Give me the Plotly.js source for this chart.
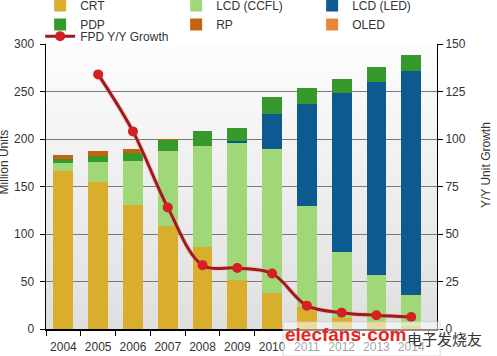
<!DOCTYPE html>
<html>
<head>
<meta charset="utf-8">
<script src="https://cdn.plot.ly/plotly-3.0.1.min.js"></script>
<style>html,body{margin:0;padding:0;background:#fff;}#chart{width:497px;height:356px;}</style>
</head>
<body>
<div id="chart"></div>
<script>
// ---- data ----
var years = ['2004','2005','2006','2007','2008','2009','2010','2011','2012','2013','2014'];
var crt     = [166, 155, 131, 108, 86, 52, 38, 23, 12, 7, 3];
var lcdCcfl = [9, 21, 46, 79, 107, 144, 151, 106, 69, 50, 33];
var lcdLed  = [0, 0, 0, 0, 0, 2, 37, 108, 167, 203, 236];
var pdp     = [4, 6.5, 8, 11.5, 15, 14, 18, 17, 15, 15.5, 16];
var rp      = [4.5, 4.5, 5, 1.5, 0.5, 0, 0, 0, 0, 0, 0];
var oled    = [0, 0, 0, 0, 0, 0, 0, 0, 0.2, 0.4, 0.8];
var growthYears = ['2005','2006','2007','2008','2009','2010','2011','2012','2013','2014'];
var growth  = [134, 104, 64, 33.6, 32.1, 29.2, 12.3, 8.6, 7.2, 6.3];
var leftTicks = [0, 50, 100, 150, 200, 250, 300];
var rightTicks = [0, 25, 50, 75, 100, 125, 150];

var FONT = 'Liberation Sans, Arial, sans-serif';

function bar(name, y, color) {
  return {type: 'bar', name: name, x: years, y: y, marker: {color: color, line: {width: 0}},
          width: 0.57, hoverinfo: 'x+y+name'};
}

var traces = [
  bar('CRT', crt, '#d9ae2c'),
  bar('LCD (CCFL)', lcdCcfl, '#a0d878'),
  bar('LCD (LED)', lcdLed, '#0d5a91'),
  bar('PDP', pdp, '#359a2b'),
  bar('RP', rp, '#c4620f'),
  bar('OLED', oled, '#e8873a'),
  {type: 'scatter', mode: 'lines', x: growthYears, y: growth, yaxis: 'y2', showlegend: false,
   hoverinfo: 'skip', line: {color: 'rgba(255,150,150,0.4)', width: 5, shape: 'spline', smoothing: 1}},
  {type: 'scatter', mode: 'lines+markers', name: 'FPD Y/Y Growth', x: growthYears, y: growth, yaxis: 'y2',
   legend: 'legend2',
   line: {color: '#9a1c1c', width: 3, shape: 'spline', smoothing: 1},
   marker: {color: '#d42020', size: 10, line: {width: 0}}}
];

// vertical gradient behind the plot area
var shapes = [];
var N = 40;
for (var i = 0; i < N; i++) {
  var t = i / (N - 1);
  var v = Math.round(253 - t * 30);
  shapes.push({type: 'rect', xref: 'paper', yref: 'paper', x0: 0, x1: 1,
    y0: 1 - (i + 1) / N, y1: 1 - i / N, layer: 'below', line: {width: 0},
    fillcolor: 'rgb(' + v + ',' + v + ',' + v + ')'});
}

var layout = {
  width: 497, height: 356,
  margin: {l: 46, r: 60, t: 44, b: 27, autoexpand: false},
  paper_bgcolor: '#ffffff',
  plot_bgcolor: '#eeeeee',
  barmode: 'stack',
  font: {family: FONT, size: 12, color: '#333333'},
  showlegend: true,
  legend: {orientation: 'h', x: -0.015, xanchor: 'left', y: 1.186, yanchor: 'top',
           entrywidth: 91, traceorder: 'normal', bgcolor: 'rgba(0,0,0,0)',
           font: {family: FONT, size: 12, color: '#333333'}},
  legend2: {orientation: 'h', x: -0.015, xanchor: 'left', y: 1.0785, yanchor: 'top',
            bgcolor: 'rgba(0,0,0,0)', font: {family: FONT, size: 12, color: '#333333'}},
  xaxis: {type: 'category', tickson: 'boundaries', ticks: 'outside', ticklen: 5, tickcolor: '#000',
          tickangle: 0,
          showline: true, linecolor: '#000', linewidth: 1.5, showgrid: false, zeroline: false,
          ticklabelstandoff: 6, tickfont: {family: FONT, size: 12, color: '#333'}},
  yaxis: {range: [0, 300], tickvals: leftTicks, ticks: 'outside', ticklen: 5, tickcolor: '#000',
          showline: true, linecolor: '#000', linewidth: 1.5, showgrid: true, gridcolor: '#7a7a7a',
          gridwidth: 1, zeroline: false, ticklabelstandoff: 3,
          tickfont: {family: FONT, size: 12, color: '#333'}},
  yaxis2: {overlaying: 'y', side: 'right', range: [0, 150], tickvals: rightTicks, ticksuffix: '%',
           ticks: 'outside', ticklen: 5, tickcolor: '#000', showline: true, linecolor: '#000',
           linewidth: 1, showgrid: false, zeroline: false,
           tickfont: {family: FONT, size: 12, color: '#333'}},
  shapes: shapes,
  annotations: [
    {text: 'Million Units', xref: 'paper', yref: 'paper', x: -0.107, y: 0.585, textangle: -90,
     xanchor: 'center', yanchor: 'middle',
     showarrow: false, font: {family: FONT, size: 12, color: '#333'}},
    {text: 'Y/Y Unit Growth', xref: 'paper', yref: 'paper', x: 1.125, y: 0.575, textangle: -90,
     xanchor: 'center', yanchor: 'middle',
     showarrow: false, font: {family: FONT, size: 12, color: '#333'}},
    {text: 'elecfans·com', xref: 'paper', yref: 'paper', x: 0.765, y: -0.021, xanchor: 'center', yanchor: 'middle',
     showarrow: false, font: {family: 'Liberation Sans Narrow, Liberation Sans, Arial', size: 19, color: '#e8261f', weight: 'bold'}},
    {text: '电子发烧友', xref: 'paper', yref: 'paper', x: 1.018, y: -0.032, xanchor: 'center', yanchor: 'middle',
     showarrow: false, font: {family: 'Noto Sans CJK SC, sans-serif', size: 15, color: '#333'}}
  ]
};

// translucent watermark plate
layout.shapes.push({type: 'rect', xref: 'paper', yref: 'paper', x0: 0.606, x1: 1.008, y0: -0.095, y1: 0.025,
  layer: 'above', line: {width: 1, color: 'rgba(200,200,200,0.6)'}, fillcolor: 'rgba(255,255,255,0.55)'});

Plotly.newPlot('chart', traces, layout, {displayModeBar: false, staticPlot: true});
</script>
</body>
</html>
